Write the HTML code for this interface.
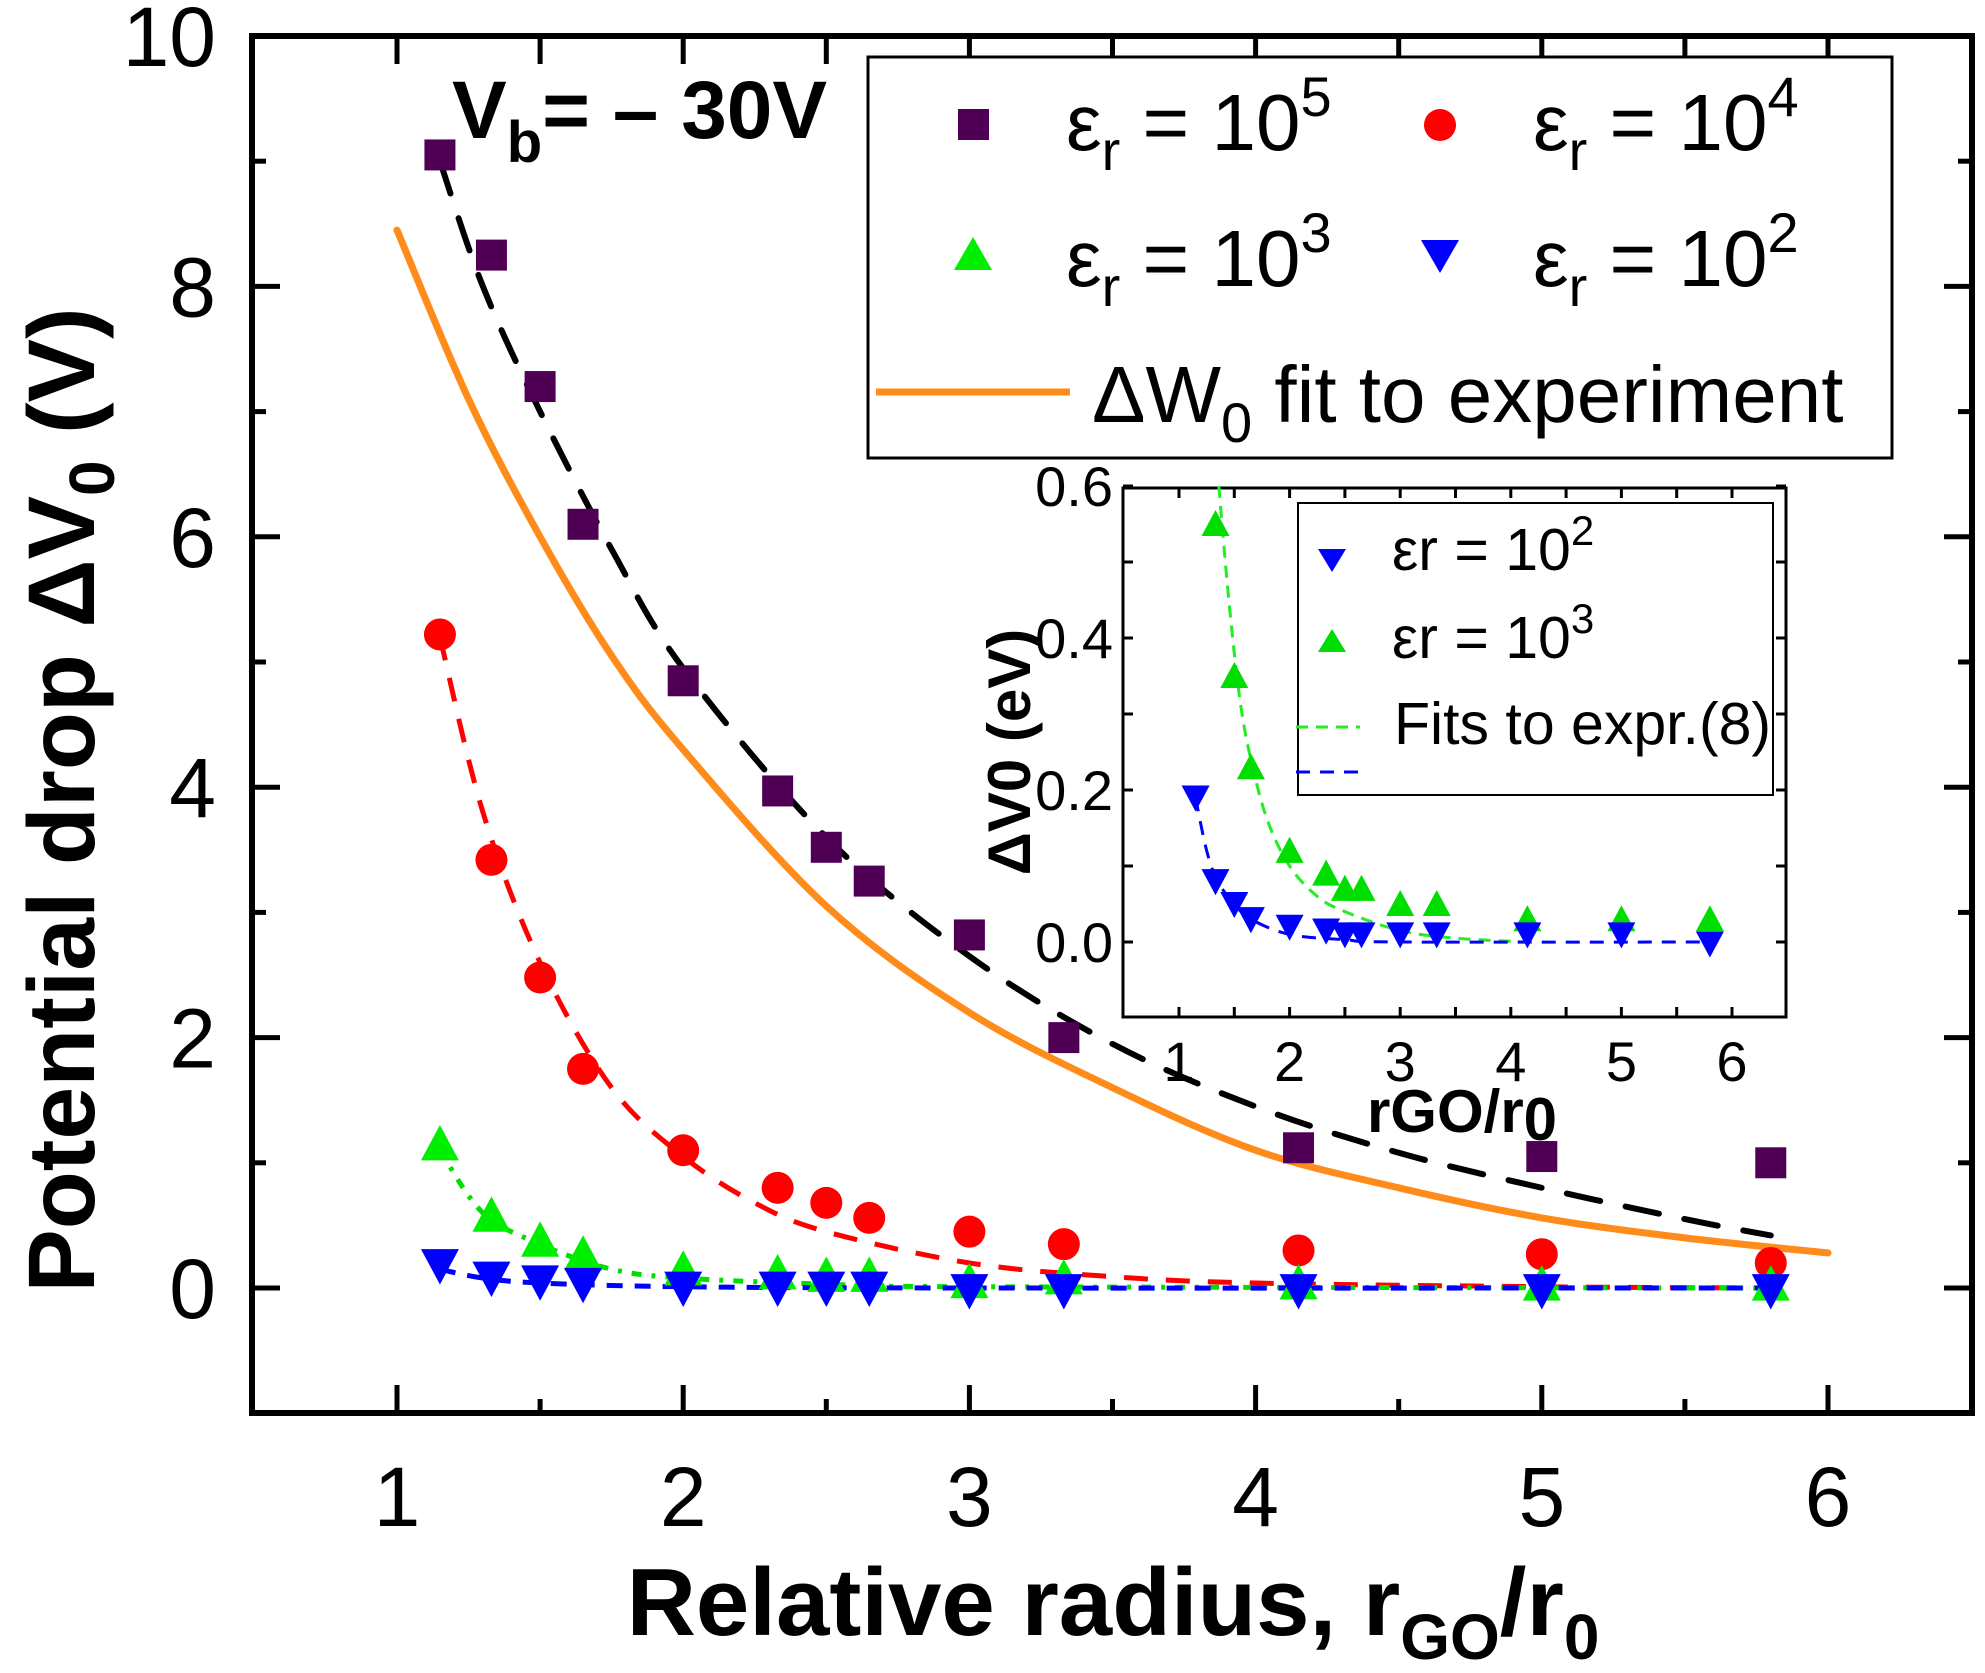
<!DOCTYPE html>
<html><head><meta charset="utf-8"><style>
html,body{margin:0;padding:0;background:#fff}
svg{display:block}
text{font-family:"Liberation Sans",Arial,sans-serif}
</style></head><body>
<svg id="chart" width="1985" height="1673" viewBox="0 0 1985 1673" xmlns="http://www.w3.org/2000/svg">
<g id="main"></g>
<g id="inset"></g>
</svg>
<script>
// ---- data ----
const xPts = [1.15,1.33,1.5,1.65,2,2.33,2.5,2.65,3,3.33,4.15,5,5.8];
const sq5 = [9.05,8.25,7.2,6.1,4.85,3.97,3.52,3.25,2.82,2.0,1.12,1.05,1.0];
const red4 = [5.22,3.42,2.48,1.75,1.1,0.8,0.68,0.56,0.45,0.35,0.3,0.27,0.2];
const grn3 = [1.15,0.58,0.38,0.27,0.15,0.12,0.1,0.1,0.05,0.08,0.04,0.03,0.03];
const blu2 = [0.18,0.08,0.05,0.03,0.0,0.0,0.0,0.0,-0.02,-0.02,-0.02,-0.02,-0.02];
const orangeX = [1,1.25,1.5,1.75,2,2.5,3,3.5,4,4.5,5,5.5,6];
const orangeY = [8.45,7.1,6.0,5.05,4.3,3.05,2.2,1.6,1.1,0.8,0.56,0.4,0.28];
const blackX = [1.15,1.3,1.5,1.75,2,2.5,3,3.5,4,4.5,5,5.5,5.8];
const blackY = [9.0,8.0,7.0,5.9,4.95,3.6,2.65,1.95,1.45,1.08,0.8,0.55,0.42];
const redFitX = [1.15,1.3,1.5,1.75,2,2.25,2.5,3,3.5,4,5,5.8];
const redFitY = [5.2,3.8,2.6,1.6,1.05,0.68,0.45,0.2,0.09,0.04,0.01,0];
const grnFitX = [1.15,1.3,1.5,1.75,2,2.5,3,5.8];
const grnFitY = [1.1,0.6,0.35,0.15,0.08,0.03,0.01,0];
const bluFitX = [1.15,1.3,1.5,2,3,5.8];
const bluFitY = [0.15,0.08,0.04,0.01,0,0];
const xTicks = ["1","2","3","4","5","6"];
const yTicks = ["0","2","4","6","8","10"];
// inset data
const insBluY = [0.19,0.08,0.05,0.03,0.02,0.015,0.01,0.01,0.01,0.01,0.01,0.01,-0.002];
const insGrnX = [1.33,1.5,1.65,2,2.33,2.5,2.65,3,3.33,4.15,5,5.8];
const insGrnY = [0.55,0.35,0.23,0.12,0.09,0.07,0.07,0.05,0.05,0.03,0.03,0.03];
const insGrnFitX = [1.36,1.45,1.55,1.65,1.8,2,2.25,2.5,3,3.5,4.15];
const insGrnFitY = [0.6,0.45,0.32,0.24,0.16,0.1,0.06,0.04,0.015,0.005,0];
const insBluFitX = [1.15,1.25,1.35,1.5,1.65,2,2.5,3,5.8];
const insBluFitY = [0.19,0.12,0.08,0.05,0.03,0.01,0.003,0,0];
const insXTicks = ["1","2","3","4","5","6"];
const insYTicks = ["0.0","0.2","0.4","0.6"];

const NS="http://www.w3.org/2000/svg";
function mk(parent,tag,attrs){const e=document.createElementNS(NS,tag);for(const k in attrs)e.setAttribute(k,attrs[k]);parent.appendChild(e);return e;}
const X=v=>397+(v-1)*286.2, Y=v=>1288-v*125.2;
const L=252,R=1972,T=36,B=1413;
const g=document.getElementById('main');
// smooth Catmull-Rom path
function path(parent,xs,ys,fx,fy){
 const p=xs.map((x,i)=>[fx(x),fy(ys[i])]);
 let d='M'+p[0][0].toFixed(1)+' '+p[0][1].toFixed(1);
 for(let i=0;i<p.length-1;i++){
  const p0=p[Math.max(0,i-1)],p1=p[i],p2=p[i+1],p3=p[Math.min(p.length-1,i+2)];
  const c1=[p1[0]+(p2[0]-p0[0])/6,p1[1]+(p2[1]-p0[1])/6];
  const c2=[p2[0]-(p3[0]-p1[0])/6,p2[1]-(p3[1]-p1[1])/6];
  d+=` C${c1[0].toFixed(1)} ${c1[1].toFixed(1)} ${c2[0].toFixed(1)} ${c2[1].toFixed(1)} ${p2[0].toFixed(1)} ${p2[1].toFixed(1)}`;
 }
 return d;}

let c;
c=mk(g,'path',{d:path(g,orangeX,orangeY,X,Y),fill:'none',stroke:'#ff8c1a','stroke-width':7,'stroke-linecap':'round'});

c=mk(g,'path',{d:path(g,blackX,blackY,X,Y),fill:'none',stroke:'#000','stroke-width':6,'stroke-dasharray':'34 26','stroke-linecap':'round'});

c=mk(g,'path',{d:path(g,redFitX,redFitY,X,Y),fill:'none',stroke:'#ff0000','stroke-width':5,'stroke-dasharray':'24 18'});

c=mk(g,'path',{d:path(g,grnFitX,grnFitY,X,Y),fill:'none',stroke:'#00e000','stroke-width':5,'stroke-dasharray':'10 10 4 10'});

c=mk(g,'path',{d:path(g,bluFitX,bluFitY,X,Y),fill:'none',stroke:'#0000ff','stroke-width':5,'stroke-dasharray':'16 12'});


function square(p,cx,cy,s,col){return mk(p,'rect',{x:cx-s/2,y:cy-s/2,width:s,height:s,fill:col});}
function circ(p,cx,cy,r,col){return mk(p,'circle',{cx:cx,cy:cy,r:r,fill:col});}
function triUp(p,cx,cy,s,col){return mk(p,'polygon',{points:`${cx-s/2},${cy+s*0.43} ${cx+s/2},${cy+s*0.43} ${cx},${cy-s*0.5}`,fill:col});}
function triDn(p,cx,cy,s,col){return mk(p,'polygon',{points:`${cx-s/2},${cy-s*0.43} ${cx+s/2},${cy-s*0.43} ${cx},${cy+s*0.5}`,fill:col});}

xPts.forEach((x,i)=>{let e;
 e=square(g,X(x),Y(sq5[i]),31,'#4f0055');
 e=circ(g,X(x),Y(red4[i]),16,'#ff0000');
 e=triUp(g,X(x),Y(grn3[i]),38,'#00ee00');
 e=triDn(g,X(x),Y(blu2[i]),38,'#0000ff');
});

c=mk(g,'rect',{x:L,y:T,width:R-L,height:B-T,fill:'none',stroke:'#000','stroke-width':6});

for(let v=1;v<=6.01;v+=0.5){const major=Math.abs(v-Math.round(v))<0.01;const len=major?28:14;
 mk(g,'line',{x1:X(v),x2:X(v),y1:B,y2:B-len,stroke:'#000','stroke-width':5});
 mk(g,'line',{x1:X(v),x2:X(v),y1:T,y2:T+28,stroke:'#000','stroke-width':5});}
for(let v=-1;v<=10;v+=1){const major=v%2===0;const len=major?28:14;
 mk(g,'line',{x1:L,x2:L+len,y1:Y(v),y2:Y(v),stroke:'#000','stroke-width':5});
 mk(g,'line',{x1:R,x2:R-len,y1:Y(v),y2:Y(v),stroke:'#000','stroke-width':5});}
xTicks.forEach(t=>{const e=mk(g,'text',{x:X(+t),y:1526,'font-size':84,'text-anchor':'middle'});e.textContent=t;
 });
yTicks.forEach(t=>{const e=mk(g,'text',{x:216,y:Y(+t)+30,'font-size':84,'text-anchor':'end'});e.textContent=t;
 });

// inset
const ig=document.getElementById('inset');
const IX=v=>1179+(v-1)*110.6, IY=v=>942-v*760;
const IL=1123,IR=1786,IT=488,IB=1017;
mk(ig,'rect',{x:IL,y:IT,width:IR-IL,height:IB-IT,fill:'#fff',stroke:'#000','stroke-width':3});
c=mk(ig,'path',{d:path(ig,insGrnFitX,insGrnFitY,IX,IY),fill:'none',stroke:'#22ee22','stroke-width':3,'stroke-dasharray':'12 8'});

c=mk(ig,'path',{d:path(ig,insBluFitX,insBluFitY,IX,IY),fill:'none',stroke:'#0000ff','stroke-width':3,'stroke-dasharray':'14 10'});

insGrnX.forEach((x,i)=>{const e=triUp(ig,IX(x),IY(insGrnY[i]),28,'#00dd00');});
xPts.forEach((x,i)=>{const e=triDn(ig,IX(x),IY(insBluY[i]),28,'#0000ff');});
for(let v=0.5;v<=6.51;v+=0.5){if(IX(v)<=IL+2||IX(v)>=IR-2)continue;
 mk(ig,'line',{x1:IX(v),x2:IX(v),y1:IB,y2:IB-10,stroke:'#000','stroke-width':3});
 mk(ig,'line',{x1:IX(v),x2:IX(v),y1:IT,y2:IT+10,stroke:'#000','stroke-width':3});}
for(let v=-0.1;v<=0.61;v+=0.1){const y=IY(v);if(y>=IB-2)continue;
 mk(ig,'line',{x1:IL,x2:IL+10,y1:y,y2:y,stroke:'#000','stroke-width':3});
 mk(ig,'line',{x1:IR,x2:IR-10,y1:y,y2:y,stroke:'#000','stroke-width':3});}
insXTicks.forEach(t=>{const e=mk(ig,'text',{x:IX(+t),y:1081,'font-size':56,'text-anchor':'middle'});e.textContent=t;
 });
insYTicks.forEach(t=>{const e=mk(ig,'text',{x:1113,y:IY(+t)+20,'font-size':56,'text-anchor':'end'});e.textContent=t;
 });
</script>
<svg style="position:absolute;left:0;top:0" width="1985" height="1673">
<text transform="translate(94,800) rotate(-90)" text-anchor="middle" font-size="95" font-weight="bold" font-family="Liberation Sans,sans-serif">Potential drop ΔV<tspan font-size="64" dy="20">0</tspan><tspan dy="-20"> (V)</tspan></text>
<text x="1113" y="1635" text-anchor="middle" font-size="96" font-weight="bold" font-family="Liberation Sans,sans-serif">Relative radius, r<tspan font-size="64" dy="24">GO</tspan><tspan dy="-24">/r</tspan><tspan font-size="64" dy="24">0</tspan></text>
<text x="452" y="138" font-size="82" font-weight="bold" font-family="Liberation Sans,sans-serif">V<tspan font-size="58" dy="24">b</tspan><tspan dy="-24">= – 30V</tspan></text>
<g font-family="Liberation Sans,sans-serif" font-size="80">
<rect x="868" y="57" width="1024" height="401" fill="#fff" stroke="#000" stroke-width="3"/>
<rect x="958" y="109" width="31" height="31" fill="#4f0055"/>
<text x="1066" y="150">ε<tspan font-size="56" dy="20">r</tspan><tspan dy="-20"> = 10</tspan><tspan font-size="56" dy="-34">5</tspan></text>
<circle cx="1440" cy="125" r="16" fill="#ff0000"/>
<text x="1533" y="150">ε<tspan font-size="56" dy="20">r</tspan><tspan dy="-20"> = 10</tspan><tspan font-size="56" dy="-34">4</tspan></text>
<polygon points="954,270 992,270 973,237" fill="#00ee00"/>
<text x="1066" y="286">ε<tspan font-size="56" dy="20">r</tspan><tspan dy="-20"> = 10</tspan><tspan font-size="56" dy="-34">3</tspan></text>
<polygon points="1421,240 1459,240 1440,273" fill="#0000ff"/>
<text x="1533" y="286">ε<tspan font-size="56" dy="20">r</tspan><tspan dy="-20"> = 10</tspan><tspan font-size="56" dy="-34">2</tspan></text>
<line x1="876" y1="392" x2="1070" y2="392" stroke="#ff8c1a" stroke-width="7"/>
<text x="1092" y="422">ΔW<tspan font-size="56" dy="20">0</tspan><tspan dy="-20"> fit to experiment</tspan></text>
</g>
<g font-family="Liberation Sans,sans-serif" font-size="59">
<rect x="1298" y="503" width="475" height="292" fill="none" stroke="#000" stroke-width="2"/>
<polygon points="1318,549 1346,549 1332,572" fill="#0000ff"/>
<text x="1392" y="570">εr = 10<tspan font-size="42" dy="-25">2</tspan></text>
<polygon points="1318,652 1346,652 1332,629" fill="#00dd00"/>
<text x="1392" y="658">εr = 10<tspan font-size="42" dy="-25">3</tspan></text>
<line x1="1296" y1="727" x2="1360" y2="727" stroke="#22ee22" stroke-width="3" stroke-dasharray="12 8"/>
<line x1="1296" y1="772" x2="1360" y2="772" stroke="#0000ff" stroke-width="3" stroke-dasharray="14 10"/>
<text x="1394" y="744">Fits to expr.(8)</text>
</g>
<text x="1462" y="1132" text-anchor="middle" font-size="60" font-weight="bold" font-family="Liberation Sans,sans-serif">rGO/r<tspan dy="8">0</tspan></text>
<text transform="translate(1030,752) rotate(-90)" text-anchor="middle" font-size="60" font-weight="bold" font-family="Liberation Sans,sans-serif">ΔV0 (eV)</text>
</svg>
</body></html>
